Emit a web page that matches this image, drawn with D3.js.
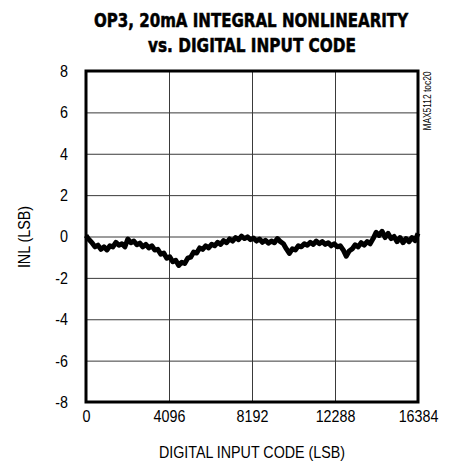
<!DOCTYPE html>
<html><head><meta charset="utf-8">
<script src="https://cdn.jsdelivr.net/npm/d3@7"></script>
<style>body{margin:0;background:#fff}svg{display:block}</style>
</head><body>
<script>
const titleLines = ["OP3, 20mA INTEGRAL NONLINEARITY", "vs. DIGITAL INPUT CODE"];
const xTicks = [0, 4096, 8192, 12288, 16384];
const yTicks = [-8, -6, -4, -2, 0, 2, 4, 6, 8];
const xLabel = "DIGITAL INPUT CODE (LSB)";
const yLabel = "INL (LSB)";
const tocLabel = "MAX5112 toc20";
const inl = [
 0.05,-0.15,-0.3,-0.5,-0.42,-0.62,-0.5,-0.65,-0.45,-0.5,
 -0.28,-0.42,-0.35,-0.5,-0.12,-0.3,-0.22,-0.4,-0.32,-0.5,
 -0.38,-0.55,-0.45,-0.65,-0.62,-0.85,-0.8,-1.05,-0.98,-1.22,
 -1.15,-1.4,-1.25,-1.3,-1.05,-1.0,-0.75,-0.8,-0.55,-0.62,
 -0.45,-0.55,-0.38,-0.45,-0.28,-0.38,-0.2,-0.3,-0.12,-0.22,
 -0.05,-0.15,0.02,-0.1,-0.02,-0.15,-0.08,-0.22,-0.12,-0.28,
 -0.18,-0.32,-0.22,-0.3,-0.1,-0.25,-0.35,-0.6,-0.82,-0.6,
 -0.65,-0.45,-0.5,-0.35,-0.42,-0.28,-0.38,-0.22,-0.35,-0.25,
 -0.38,-0.3,-0.45,-0.35,-0.5,-0.45,-0.65,-0.95,-0.7,-0.6,
 -0.4,-0.5,-0.3,-0.42,-0.25,-0.35,-0.1,0.2,0.05,0.25,
 -0.05,0.15,-0.1,0.0,-0.25,-0.05,-0.3,-0.1,-0.25,-0.05,
 -0.2,0.15
];
const codes = inl.map((d, i) => i * 16384 / (inl.length - 1));

const W = 451, H = 466;
const m = {left: 86, right: 418, top: 71, bottom: 402};
const svg = d3.select("body").append("svg").attr("width", W).attr("height", H);
const sans = "'Liberation Sans',Arial,Helvetica,sans-serif";
const cond = "'DejaVu Sans Condensed','DejaVu Sans',sans-serif";

function narrowify(sel, f) {
  sel.each(function() {
    const w = this.getComputedTextLength();
    d3.select(this).attr("textLength", (w * f).toFixed(1)).attr("lengthAdjust", "spacingAndGlyphs");
  });
}

const x = d3.scaleLinear().domain([0, 16384]).range([m.left, m.right]);
const y = d3.scaleLinear().domain([-8, 8]).range([m.bottom, m.top]);
const fmt = d => String(d);

// title (scaled horizontally to the reference width)
function titleLine(txt, cx, by, width) {
  const gt = svg.append("g");
  const t = gt.append("text").attr("x", 0).attr("y", 0).attr("text-anchor", "middle")
    .attr("font-family", cond).attr("font-weight", "bold").attr("font-size", 20)
    .attr("stroke", "#000").attr("stroke-width", 0.5).text(txt);
  const sx = width / t.node().getComputedTextLength();
  gt.attr("transform", `translate(${cx},${by}) scale(${sx.toFixed(3)},1)`);
}
titleLine(titleLines[0], 251, 27, 314);
titleLine(titleLines[1], 252, 52, 208);

// grid
svg.append("g").attr("transform", `translate(0,${m.bottom})`)
  .call(d3.axisBottom(x).tickValues(xTicks.slice(1, -1)).tickSize(-(m.bottom - m.top)).tickFormat(""))
  .call(s => s.select(".domain").remove())
  .call(s => s.selectAll("line").attr("stroke", "#3a3a3a").attr("stroke-width", 1));
svg.append("g").attr("transform", `translate(${m.left},0)`)
  .call(d3.axisLeft(y).tickValues(yTicks.slice(1, -1)).tickSize(-(m.right - m.left)).tickFormat(""))
  .call(s => s.select(".domain").remove())
  .call(s => s.selectAll("line").attr("stroke", "#3a3a3a").attr("stroke-width", 1));

// tick labels
const xa = svg.append("g").attr("transform", `translate(0,${m.bottom})`)
  .call(d3.axisBottom(x).tickValues(xTicks).tickSize(0).tickPadding(8).tickFormat(fmt));
xa.select(".domain").remove();
xa.selectAll("text").attr("font-family", sans).attr("font-size", 17).attr("fill", "#000").attr("dy", "0.71em")
  .call(narrowify, 0.84);
const ya = svg.append("g").attr("transform", `translate(${m.left},0)`)
  .call(d3.axisLeft(y).tickValues(yTicks).tickSize(0).tickPadding(18).tickFormat(fmt));
ya.select(".domain").remove();
ya.selectAll("text").attr("font-family", sans).attr("font-size", 17).attr("fill", "#000")
  .call(narrowify, 0.84);

// data line
svg.append("path").datum(inl)
  .attr("fill", "none").attr("stroke", "#000").attr("stroke-width", 5)
  .attr("stroke-linejoin", "round")
  .attr("d", d3.line().x((d, i) => x(codes[i])).y(d => y(d)));

// frame
svg.append("rect").attr("x", m.left).attr("y", m.top)
  .attr("width", m.right - m.left).attr("height", m.bottom - m.top)
  .attr("fill", "none").attr("stroke", "#000").attr("stroke-width", 3);

// axis titles
svg.append("text").attr("x", 252).attr("y", 458).attr("text-anchor", "middle")
  .attr("font-family", sans).attr("font-size", 17).text(xLabel).call(narrowify, 0.84);
svg.append("text").attr("transform", `translate(30,237) rotate(-90)`).attr("text-anchor", "middle")
  .attr("font-family", sans).attr("font-size", 17).text(yLabel).call(narrowify, 0.84);
svg.append("text").attr("transform", `translate(431,101) rotate(-90)`).attr("text-anchor", "middle")
  .attr("font-family", sans).attr("font-size", 10).text(tocLabel).call(narrowify, 0.84);
</script>
</body></html>
